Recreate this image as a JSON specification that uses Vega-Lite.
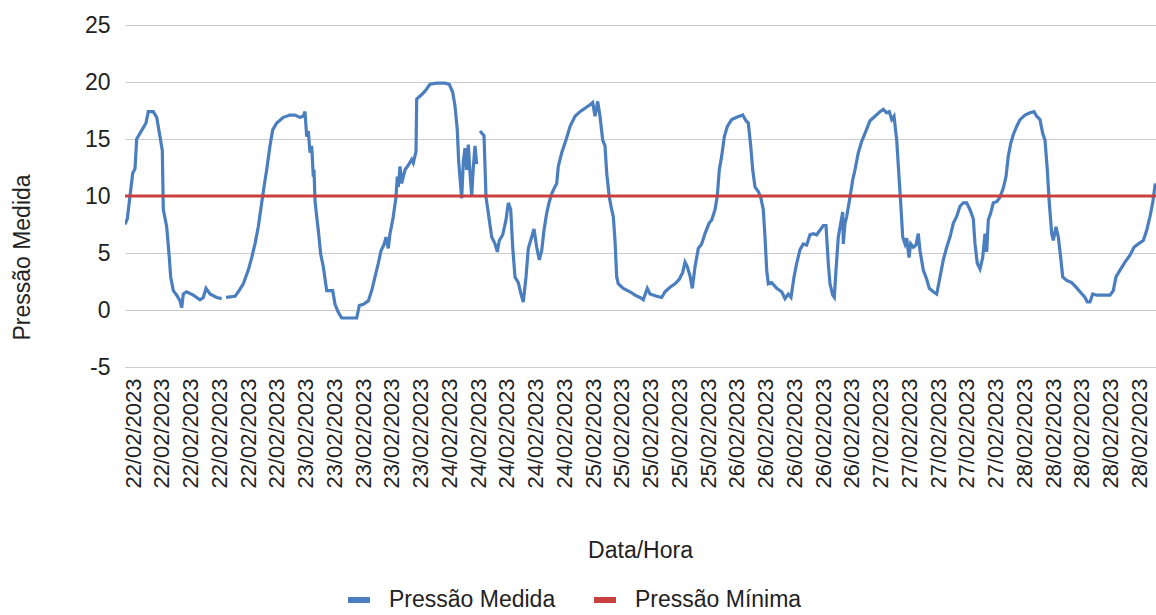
{
  "$schema": "https://vega.github.io/schema/vega-lite/v6.json",
  "autosize": {"type": "none"},
  "width": 1031,
  "height": 342,
  "padding": {"left": 125, "top": 25, "right": 0, "bottom": 248},
  "background": "white",
  "config": {
    "view": {"stroke": null},
    "font": "Liberation Sans",
    "axis": {"labelFont": "Liberation Sans", "titleFont": "Liberation Sans", "labelColor": "#222", "titleColor": "#222", "titleFontWeight": "normal"},
    "legend": {"labelFont": "Liberation Sans"}
  },
  "datasets": {
    "medida": [
      {"DataHora":"2023-02-21T22:40","Pressao":7.5},{"DataHora":"2023-02-21T23:03","Pressao":8.0},{"DataHora":"2023-02-21T23:30","Pressao":10.0},{"DataHora":"2023-02-21T23:57","Pressao":12.0},
      {"DataHora":"2023-02-22T00:20","Pressao":12.4},{"DataHora":"2023-02-22T00:37","Pressao":15.0},{"DataHora":"2023-02-22T01:10","Pressao":15.5},{"DataHora":"2023-02-22T01:43","Pressao":16.0},{"DataHora":"2023-02-22T02:10","Pressao":16.4},{"DataHora":"2023-02-22T02:33","Pressao":17.4},{"DataHora":"2023-02-22T03:23","Pressao":17.4},{"DataHora":"2023-02-22T03:57","Pressao":16.9},{"DataHora":"2023-02-22T04:30","Pressao":15.2},{"DataHora":"2023-02-22T04:53","Pressao":14.0},{"DataHora":"2023-02-22T05:03","Pressao":8.8},{"DataHora":"2023-02-22T05:37","Pressao":7.3},{"DataHora":"2023-02-22T06:03","Pressao":4.6},{"DataHora":"2023-02-22T06:17","Pressao":2.9},{"DataHora":"2023-02-22T06:43","Pressao":1.7},{"DataHora":"2023-02-22T07:17","Pressao":1.3},{"DataHora":"2023-02-22T07:50","Pressao":0.8},{"DataHora":"2023-02-22T08:07","Pressao":0.2},{"DataHora":"2023-02-22T08:23","Pressao":1.4},{"DataHora":"2023-02-22T08:57","Pressao":1.6},{"DataHora":"2023-02-22T10:03","Pressao":1.3},{"DataHora":"2023-02-22T11:10","Pressao":0.9},{"DataHora":"2023-02-22T11:43","Pressao":1.1},{"DataHora":"2023-02-22T12:10","Pressao":1.9},{"DataHora":"2023-02-22T12:50","Pressao":1.4},{"DataHora":"2023-02-22T13:57","Pressao":1.1},{"DataHora":"2023-02-22T14:47","Pressao":1.0},{"DataHora":"2023-02-22T15:10","Pressao":null},{"DataHora":"2023-02-22T15:30","Pressao":1.1},{"DataHora":"2023-02-22T17:00","Pressao":1.2},{"DataHora":"2023-02-22T17:33","Pressao":1.6},{"DataHora":"2023-02-22T18:23","Pressao":2.3},{"DataHora":"2023-02-22T19:13","Pressao":3.5},{"DataHora":"2023-02-22T19:47","Pressao":4.6},{"DataHora":"2023-02-22T20:20","Pressao":5.8},{"DataHora":"2023-02-22T20:53","Pressao":7.3},{"DataHora":"2023-02-22T21:27","Pressao":9.4},{"DataHora":"2023-02-22T21:50","Pressao":10.8},{"DataHora":"2023-02-22T22:17","Pressao":12.3},{"DataHora":"2023-02-22T22:50","Pressao":14.4},{"DataHora":"2023-02-22T23:17","Pressao":15.8},{"DataHora":"2023-02-22T23:57","Pressao":16.4},
      {"DataHora":"2023-02-23T01:03","Pressao":16.9},{"DataHora":"2023-02-23T02:10","Pressao":17.1},{"DataHora":"2023-02-23T03:00","Pressao":17.1},{"DataHora":"2023-02-23T03:50","Pressao":16.9},{"DataHora":"2023-02-23T04:23","Pressao":17.0},{"DataHora":"2023-02-23T04:40","Pressao":17.4},{"DataHora":"2023-02-23T04:57","Pressao":15.2},{"DataHora":"2023-02-23T05:13","Pressao":15.7},{"DataHora":"2023-02-23T05:30","Pressao":13.8},{"DataHora":"2023-02-23T05:47","Pressao":14.4},{"DataHora":"2023-02-23T06:03","Pressao":11.7},{"DataHora":"2023-02-23T06:10","Pressao":12.3},{"DataHora":"2023-02-23T06:20","Pressao":9.6},{"DataHora":"2023-02-23T06:37","Pressao":8.2},{"DataHora":"2023-02-23T06:53","Pressao":7.0},{"DataHora":"2023-02-23T07:17","Pressao":4.9},{"DataHora":"2023-02-23T07:43","Pressao":3.8},{"DataHora":"2023-02-23T08:17","Pressao":1.7},{"DataHora":"2023-02-23T09:17","Pressao":1.7},{"DataHora":"2023-02-23T09:40","Pressao":0.5},{"DataHora":"2023-02-23T10:13","Pressao":-0.2},{"DataHora":"2023-02-23T10:47","Pressao":-0.7},{"DataHora":"2023-02-23T11:53","Pressao":-0.7},{"DataHora":"2023-02-23T13:17","Pressao":-0.7},{"DataHora":"2023-02-23T13:43","Pressao":0.4},{"DataHora":"2023-02-23T14:23","Pressao":0.5},{"DataHora":"2023-02-23T15:13","Pressao":0.8},{"DataHora":"2023-02-23T15:47","Pressao":1.7},{"DataHora":"2023-02-23T16:20","Pressao":2.9},{"DataHora":"2023-02-23T16:53","Pressao":4.1},{"DataHora":"2023-02-23T17:20","Pressao":5.2},{"DataHora":"2023-02-23T17:53","Pressao":5.8},{"DataHora":"2023-02-23T18:10","Pressao":6.4},{"DataHora":"2023-02-23T18:33","Pressao":5.4},{"DataHora":"2023-02-23T18:50","Pressao":6.7},{"DataHora":"2023-02-23T19:23","Pressao":8.2},{"DataHora":"2023-02-23T19:50","Pressao":9.9},{"DataHora":"2023-02-23T20:03","Pressao":11.7},{"DataHora":"2023-02-23T20:13","Pressao":10.8},{"DataHora":"2023-02-23T20:30","Pressao":12.6},{"DataHora":"2023-02-23T20:47","Pressao":11.1},{"DataHora":"2023-02-23T21:20","Pressao":12.3},{"DataHora":"2023-02-23T21:53","Pressao":12.7},{"DataHora":"2023-02-23T22:27","Pressao":13.2},{"DataHora":"2023-02-23T22:43","Pressao":12.9},{"DataHora":"2023-02-23T23:10","Pressao":13.9},{"DataHora":"2023-02-23T23:17","Pressao":18.5},
      {"DataHora":"2023-02-24T00:07","Pressao":18.9},{"DataHora":"2023-02-24T00:40","Pressao":19.2},{"DataHora":"2023-02-24T01:30","Pressao":19.8},{"DataHora":"2023-02-24T02:37","Pressao":19.9},{"DataHora":"2023-02-24T04:00","Pressao":19.9},{"DataHora":"2023-02-24T04:43","Pressao":19.8},{"DataHora":"2023-02-24T05:17","Pressao":19.1},{"DataHora":"2023-02-24T05:40","Pressao":17.9},{"DataHora":"2023-02-24T06:03","Pressao":15.8},{"DataHora":"2023-02-24T06:17","Pressao":13.0},{"DataHora":"2023-02-24T06:47","Pressao":9.8},{"DataHora":"2023-02-24T07:03","Pressao":13.0},{"DataHora":"2023-02-24T07:20","Pressao":14.2},{"DataHora":"2023-02-24T07:37","Pressao":12.3},{"DataHora":"2023-02-24T07:53","Pressao":14.5},{"DataHora":"2023-02-24T08:10","Pressao":12.0},{"DataHora":"2023-02-24T08:27","Pressao":10.0},{"DataHora":"2023-02-24T08:43","Pressao":12.5},{"DataHora":"2023-02-24T09:00","Pressao":14.4},{"DataHora":"2023-02-24T09:17","Pressao":12.8},{"DataHora":"2023-02-24T09:30","Pressao":null},{"DataHora":"2023-02-24T09:50","Pressao":15.7},{"DataHora":"2023-02-24T10:30","Pressao":15.3},{"DataHora":"2023-02-24T10:50","Pressao":9.9},{"DataHora":"2023-02-24T11:13","Pressao":8.5},{"DataHora":"2023-02-24T11:47","Pressao":6.4},{"DataHora":"2023-02-24T12:20","Pressao":5.8},{"DataHora":"2023-02-24T12:43","Pressao":5.1},{"DataHora":"2023-02-24T13:03","Pressao":6.1},{"DataHora":"2023-02-24T13:37","Pressao":6.6},{"DataHora":"2023-02-24T14:10","Pressao":7.9},{"DataHora":"2023-02-24T14:33","Pressao":9.4},{"DataHora":"2023-02-24T14:57","Pressao":8.8},{"DataHora":"2023-02-24T15:17","Pressao":5.5},{"DataHora":"2023-02-24T15:40","Pressao":2.9},{"DataHora":"2023-02-24T16:13","Pressao":2.4},{"DataHora":"2023-02-24T16:40","Pressao":1.4},{"DataHora":"2023-02-24T17:03","Pressao":0.7},{"DataHora":"2023-02-24T17:30","Pressao":2.9},{"DataHora":"2023-02-24T17:53","Pressao":5.4},{"DataHora":"2023-02-24T18:27","Pressao":6.4},{"DataHora":"2023-02-24T18:50","Pressao":7.1},{"DataHora":"2023-02-24T19:17","Pressao":5.5},{"DataHora":"2023-02-24T19:43","Pressao":4.4},{"DataHora":"2023-02-24T20:07","Pressao":5.2},{"DataHora":"2023-02-24T20:30","Pressao":7.0},{"DataHora":"2023-02-24T20:57","Pressao":8.5},{"DataHora":"2023-02-24T21:23","Pressao":9.5},{"DataHora":"2023-02-24T21:47","Pressao":10.2},{"DataHora":"2023-02-24T22:13","Pressao":10.7},{"DataHora":"2023-02-24T22:37","Pressao":11.1},{"DataHora":"2023-02-24T22:53","Pressao":12.6},{"DataHora":"2023-02-24T23:27","Pressao":13.8},
      {"DataHora":"2023-02-25T00:10","Pressao":14.9},{"DataHora":"2023-02-25T00:50","Pressao":16.1},{"DataHora":"2023-02-25T01:40","Pressao":17.0},{"DataHora":"2023-02-25T02:30","Pressao":17.4},{"DataHora":"2023-02-25T03:20","Pressao":17.7},{"DataHora":"2023-02-25T04:10","Pressao":18.0},{"DataHora":"2023-02-25T04:37","Pressao":18.2},{"DataHora":"2023-02-25T05:00","Pressao":17.0},{"DataHora":"2023-02-25T05:27","Pressao":18.3},{"DataHora":"2023-02-25T05:50","Pressao":17.0},{"DataHora":"2023-02-25T06:17","Pressao":14.9},{"DataHora":"2023-02-25T06:40","Pressao":14.4},{"DataHora":"2023-02-25T06:57","Pressao":12.0},{"DataHora":"2023-02-25T07:23","Pressao":9.9},{"DataHora":"2023-02-25T07:47","Pressao":8.8},{"DataHora":"2023-02-25T08:03","Pressao":8.2},{"DataHora":"2023-02-25T08:20","Pressao":6.1},{"DataHora":"2023-02-25T08:37","Pressao":2.9},{"DataHora":"2023-02-25T08:53","Pressao":2.3},{"DataHora":"2023-02-25T09:43","Pressao":1.9},{"DataHora":"2023-02-25T10:50","Pressao":1.6},{"DataHora":"2023-02-25T11:40","Pressao":1.3},{"DataHora":"2023-02-25T12:30","Pressao":1.1},{"DataHora":"2023-02-25T13:03","Pressao":0.9},{"DataHora":"2023-02-25T13:43","Pressao":1.9},{"DataHora":"2023-02-25T14:10","Pressao":1.4},{"DataHora":"2023-02-25T15:17","Pressao":1.2},{"DataHora":"2023-02-25T16:07","Pressao":1.1},{"DataHora":"2023-02-25T16:40","Pressao":1.6},{"DataHora":"2023-02-25T17:30","Pressao":2.0},{"DataHora":"2023-02-25T18:20","Pressao":2.3},{"DataHora":"2023-02-25T19:03","Pressao":2.7},{"DataHora":"2023-02-25T19:37","Pressao":3.3},{"DataHora":"2023-02-25T20:00","Pressao":4.2},{"DataHora":"2023-02-25T20:23","Pressao":3.8},{"DataHora":"2023-02-25T20:50","Pressao":3.0},{"DataHora":"2023-02-25T21:13","Pressao":1.9},{"DataHora":"2023-02-25T21:40","Pressao":3.8},{"DataHora":"2023-02-25T22:13","Pressao":5.4},{"DataHora":"2023-02-25T22:47","Pressao":5.8},{"DataHora":"2023-02-25T23:20","Pressao":6.7},
      {"DataHora":"2023-02-26T00:00","Pressao":7.6},{"DataHora":"2023-02-26T00:27","Pressao":7.9},{"DataHora":"2023-02-26T01:00","Pressao":8.8},{"DataHora":"2023-02-26T01:23","Pressao":10.0},{"DataHora":"2023-02-26T01:43","Pressao":12.3},{"DataHora":"2023-02-26T02:07","Pressao":13.5},{"DataHora":"2023-02-26T02:33","Pressao":15.2},{"DataHora":"2023-02-26T03:03","Pressao":16.1},{"DataHora":"2023-02-26T03:47","Pressao":16.7},{"DataHora":"2023-02-26T04:37","Pressao":16.9},{"DataHora":"2023-02-26T05:37","Pressao":17.1},{"DataHora":"2023-02-26T06:10","Pressao":16.6},{"DataHora":"2023-02-26T06:33","Pressao":16.4},{"DataHora":"2023-02-26T06:57","Pressao":14.4},{"DataHora":"2023-02-26T07:17","Pressao":12.3},{"DataHora":"2023-02-26T07:40","Pressao":10.8},{"DataHora":"2023-02-26T08:13","Pressao":10.4},{"DataHora":"2023-02-26T08:37","Pressao":9.9},{"DataHora":"2023-02-26T09:03","Pressao":8.8},{"DataHora":"2023-02-26T09:20","Pressao":6.4},{"DataHora":"2023-02-26T09:37","Pressao":3.5},{"DataHora":"2023-02-26T09:53","Pressao":2.3},{"DataHora":"2023-02-26T10:27","Pressao":2.4},{"DataHora":"2023-02-26T11:17","Pressao":1.9},{"DataHora":"2023-02-26T12:07","Pressao":1.6},{"DataHora":"2023-02-26T12:40","Pressao":1.0},{"DataHora":"2023-02-26T13:13","Pressao":1.4},{"DataHora":"2023-02-26T13:40","Pressao":1.1},{"DataHora":"2023-02-26T14:10","Pressao":2.9},{"DataHora":"2023-02-26T14:37","Pressao":4.1},{"DataHora":"2023-02-26T15:10","Pressao":5.3},{"DataHora":"2023-02-26T15:43","Pressao":5.8},{"DataHora":"2023-02-26T16:17","Pressao":5.7},{"DataHora":"2023-02-26T16:50","Pressao":6.6},{"DataHora":"2023-02-26T17:23","Pressao":6.7},{"DataHora":"2023-02-26T17:57","Pressao":6.6},{"DataHora":"2023-02-26T18:30","Pressao":7.0},{"DataHora":"2023-02-26T19:03","Pressao":7.4},{"DataHora":"2023-02-26T19:30","Pressao":7.4},{"DataHora":"2023-02-26T19:53","Pressao":4.1},{"DataHora":"2023-02-26T20:10","Pressao":2.3},{"DataHora":"2023-02-26T20:37","Pressao":1.3},{"DataHora":"2023-02-26T20:53","Pressao":1.1},{"DataHora":"2023-02-26T21:10","Pressao":3.5},{"DataHora":"2023-02-26T21:33","Pressao":6.4},{"DataHora":"2023-02-26T21:57","Pressao":7.6},{"DataHora":"2023-02-26T22:17","Pressao":8.6},{"DataHora":"2023-02-26T22:23","Pressao":5.8},{"DataHora":"2023-02-26T22:40","Pressao":7.6},{"DataHora":"2023-02-26T22:57","Pressao":8.2},{"DataHora":"2023-02-26T23:30","Pressao":9.9},{"DataHora":"2023-02-26T23:57","Pressao":11.4},
      {"DataHora":"2023-02-27T00:20","Pressao":12.3},{"DataHora":"2023-02-27T00:53","Pressao":13.8},{"DataHora":"2023-02-27T01:27","Pressao":14.8},{"DataHora":"2023-02-27T02:00","Pressao":15.5},{"DataHora":"2023-02-27T02:50","Pressao":16.6},{"DataHora":"2023-02-27T03:40","Pressao":17.0},{"DataHora":"2023-02-27T04:30","Pressao":17.4},{"DataHora":"2023-02-27T05:03","Pressao":17.6},{"DataHora":"2023-02-27T05:37","Pressao":17.3},{"DataHora":"2023-02-27T06:03","Pressao":17.4},{"DataHora":"2023-02-27T06:27","Pressao":16.7},{"DataHora":"2023-02-27T06:50","Pressao":17.0},{"DataHora":"2023-02-27T07:17","Pressao":14.9},{"DataHora":"2023-02-27T07:40","Pressao":11.7},{"DataHora":"2023-02-27T07:57","Pressao":9.4},{"DataHora":"2023-02-27T08:17","Pressao":6.4},{"DataHora":"2023-02-27T08:40","Pressao":5.8},{"DataHora":"2023-02-27T08:57","Pressao":6.3},{"DataHora":"2023-02-27T09:20","Pressao":4.6},{"DataHora":"2023-02-27T09:37","Pressao":5.8},{"DataHora":"2023-02-27T10:03","Pressao":5.5},{"DataHora":"2023-02-27T10:30","Pressao":5.7},{"DataHora":"2023-02-27T10:53","Pressao":6.7},{"DataHora":"2023-02-27T11:10","Pressao":5.2},{"DataHora":"2023-02-27T11:43","Pressao":3.5},{"DataHora":"2023-02-27T12:17","Pressao":2.7},{"DataHora":"2023-02-27T12:43","Pressao":1.9},{"DataHora":"2023-02-27T13:23","Pressao":1.6},{"DataHora":"2023-02-27T13:57","Pressao":1.4},{"DataHora":"2023-02-27T14:30","Pressao":2.9},{"DataHora":"2023-02-27T15:03","Pressao":4.4},{"DataHora":"2023-02-27T15:37","Pressao":5.5},{"DataHora":"2023-02-27T16:10","Pressao":6.4},{"DataHora":"2023-02-27T16:43","Pressao":7.6},{"DataHora":"2023-02-27T17:17","Pressao":8.2},{"DataHora":"2023-02-27T17:50","Pressao":9.1},{"DataHora":"2023-02-27T18:23","Pressao":9.4},{"DataHora":"2023-02-27T18:57","Pressao":9.4},{"DataHora":"2023-02-27T19:30","Pressao":8.8},{"DataHora":"2023-02-27T20:03","Pressao":8.0},{"DataHora":"2023-02-27T20:20","Pressao":5.8},{"DataHora":"2023-02-27T20:43","Pressao":4.1},{"DataHora":"2023-02-27T21:10","Pressao":3.6},{"DataHora":"2023-02-27T21:37","Pressao":4.6},{"DataHora":"2023-02-27T22:00","Pressao":6.7},{"DataHora":"2023-02-27T22:17","Pressao":5.1},{"DataHora":"2023-02-27T22:33","Pressao":7.9},{"DataHora":"2023-02-27T22:57","Pressao":8.5},{"DataHora":"2023-02-27T23:23","Pressao":9.4},{"DataHora":"2023-02-27T23:57","Pressao":9.5},
      {"DataHora":"2023-02-28T00:30","Pressao":9.9},{"DataHora":"2023-02-28T01:03","Pressao":10.7},{"DataHora":"2023-02-28T01:30","Pressao":11.7},{"DataHora":"2023-02-28T01:53","Pressao":13.5},{"DataHora":"2023-02-28T02:17","Pressao":14.6},{"DataHora":"2023-02-28T02:43","Pressao":15.4},{"DataHora":"2023-02-28T03:17","Pressao":16.1},{"DataHora":"2023-02-28T03:50","Pressao":16.7},{"DataHora":"2023-02-28T04:40","Pressao":17.1},{"DataHora":"2023-02-28T05:30","Pressao":17.3},{"DataHora":"2023-02-28T06:10","Pressao":17.4},{"DataHora":"2023-02-28T06:37","Pressao":17.0},{"DataHora":"2023-02-28T07:10","Pressao":16.7},{"DataHora":"2023-02-28T07:37","Pressao":15.5},{"DataHora":"2023-02-28T08:00","Pressao":14.9},{"DataHora":"2023-02-28T08:23","Pressao":12.3},{"DataHora":"2023-02-28T08:43","Pressao":9.4},{"DataHora":"2023-02-28T09:07","Pressao":6.7},{"DataHora":"2023-02-28T09:23","Pressao":6.1},{"DataHora":"2023-02-28T09:50","Pressao":7.3},{"DataHora":"2023-02-28T10:13","Pressao":6.4},{"DataHora":"2023-02-28T10:37","Pressao":4.6},{"DataHora":"2023-02-28T10:57","Pressao":2.9},{"DataHora":"2023-02-28T11:37","Pressao":2.6},{"DataHora":"2023-02-28T12:27","Pressao":2.4},{"DataHora":"2023-02-28T13:10","Pressao":2.0},{"DataHora":"2023-02-28T13:50","Pressao":1.6},{"DataHora":"2023-02-28T14:40","Pressao":1.1},{"DataHora":"2023-02-28T15:03","Pressao":0.7},{"DataHora":"2023-02-28T15:30","Pressao":0.7},{"DataHora":"2023-02-28T15:57","Pressao":1.4},{"DataHora":"2023-02-28T16:37","Pressao":1.3},{"DataHora":"2023-02-28T17:43","Pressao":1.3},{"DataHora":"2023-02-28T18:50","Pressao":1.3},{"DataHora":"2023-02-28T19:23","Pressao":1.7},{"DataHora":"2023-02-28T19:50","Pressao":2.9},{"DataHora":"2023-02-28T20:30","Pressao":3.5},{"DataHora":"2023-02-28T21:20","Pressao":4.2},{"DataHora":"2023-02-28T22:10","Pressao":4.8},{"DataHora":"2023-02-28T22:50","Pressao":5.5},{"DataHora":"2023-02-28T23:33","Pressao":5.8},
      {"DataHora":"2023-03-01T00:23","Pressao":6.1},{"DataHora":"2023-03-01T00:57","Pressao":7.0},{"DataHora":"2023-03-01T01:30","Pressao":8.2},{"DataHora":"2023-03-01T01:57","Pressao":9.4},{"DataHora":"2023-03-01T02:23","Pressao":11.1}
    ],
    "minima": [
      {"DataHora":"2023-02-21T22:40","Pressao":10},
      {"DataHora":"2023-03-01T02:30","Pressao":10}
    ]
  },
  "layer": [
    {
      "mark": {"type": "rule", "color": "#333333", "strokeWidth": 1.2},
      "encoding": {"y": {"datum": 0, "type": "quantitative"}}
    },
    {
      "data": {"name": "medida"},
      "mark": {"type": "line", "strokeWidth": 3.2, "invalid": "break-paths-show-domains", "clip": true},
      "encoding": {
        "x": {
          "field": "DataHora", "type": "temporal",
          "scale": {"domain": [{"year": 2023, "month": 2, "date": 21, "hours": 22, "minutes": 40}, {"year": 2023, "month": 3, "date": 1, "hours": 2, "minutes": 30}]},
          "axis": {
            "title": "Data/Hora", "titleFontSize": 23, "titleX": 515, "titleY": 183, "titleBaseline": "middle", "titleAlign": "center",
            "format": "%d/%m/%Y", "formatType": "time", "tickCount": 60,
            "labelAngle": -90, "labelFontSize": 22, "labelPadding": 11, "labelOverlap": false, "labelFlush": false, "labelBound": false,
            "ticks": false, "domain": false, "grid": false,
            "values": [
              {"year":2023,"month":2,"date":22,"hours":0,"minutes":0},{"year":2023,"month":2,"date":22,"hours":4,"minutes":48},{"year":2023,"month":2,"date":22,"hours":9,"minutes":35},{"year":2023,"month":2,"date":22,"hours":14,"minutes":23},{"year":2023,"month":2,"date":22,"hours":19,"minutes":10},{"year":2023,"month":2,"date":22,"hours":23,"minutes":58},
              {"year":2023,"month":2,"date":23,"hours":4,"minutes":45},{"year":2023,"month":2,"date":23,"hours":9,"minutes":33},{"year":2023,"month":2,"date":23,"hours":14,"minutes":20},{"year":2023,"month":2,"date":23,"hours":19,"minutes":8},{"year":2023,"month":2,"date":23,"hours":23,"minutes":55},
              {"year":2023,"month":2,"date":24,"hours":4,"minutes":43},{"year":2023,"month":2,"date":24,"hours":9,"minutes":30},{"year":2023,"month":2,"date":24,"hours":14,"minutes":18},{"year":2023,"month":2,"date":24,"hours":19,"minutes":5},{"year":2023,"month":2,"date":24,"hours":23,"minutes":53},
              {"year":2023,"month":2,"date":25,"hours":4,"minutes":40},{"year":2023,"month":2,"date":25,"hours":9,"minutes":28},{"year":2023,"month":2,"date":25,"hours":14,"minutes":15},{"year":2023,"month":2,"date":25,"hours":19,"minutes":3},{"year":2023,"month":2,"date":25,"hours":23,"minutes":50},
              {"year":2023,"month":2,"date":26,"hours":4,"minutes":38},{"year":2023,"month":2,"date":26,"hours":9,"minutes":25},{"year":2023,"month":2,"date":26,"hours":14,"minutes":13},{"year":2023,"month":2,"date":26,"hours":19,"minutes":0},{"year":2023,"month":2,"date":26,"hours":23,"minutes":48},
              {"year":2023,"month":2,"date":27,"hours":4,"minutes":35},{"year":2023,"month":2,"date":27,"hours":9,"minutes":23},{"year":2023,"month":2,"date":27,"hours":14,"minutes":10},{"year":2023,"month":2,"date":27,"hours":18,"minutes":58},{"year":2023,"month":2,"date":27,"hours":23,"minutes":45},
              {"year":2023,"month":2,"date":28,"hours":4,"minutes":33},{"year":2023,"month":2,"date":28,"hours":9,"minutes":20},{"year":2023,"month":2,"date":28,"hours":14,"minutes":8},{"year":2023,"month":2,"date":28,"hours":18,"minutes":55},{"year":2023,"month":2,"date":28,"hours":23,"minutes":43}
            ]
          }
        },
        "y": {
          "field": "Pressao", "type": "quantitative",
          "scale": {"domain": [-5, 25], "nice": false, "zero": false},
          "axis": {
            "title": "Pressão Medida", "titleFontSize": 23, "titleX": -103, "titleY": 232, "titleAngle": -90, "titleBaseline": "middle", "titleAlign": "center",
            "values": [-5, 0, 5, 10, 15, 20, 25], "labelFontSize": 23, "labelPadding": 15,
            "labelExpr": "datum.value < 0 ? '-' + abs(datum.value) : '' + datum.value",
            "ticks": false, "domain": false, "grid": true, "gridColor": "#cccccc", "gridWidth": 1
          }
        },
        "color": {
          "datum": "Pressão Medida",
          "scale": {"domain": ["Pressão Medida", "Pressão Mínima"], "range": ["#4a7ebf", "#c9403f"]},
          "legend": {
            "title": null, "orient": "none", "direction": "horizontal", "legendX": 220, "legendY": 561,
            "symbolType": "stroke", "symbolSize": 484, "symbolStrokeWidth": 6, "labelFontSize": 23, "labelColor": "#222", "labelOffset": 16, "labelLimit": 0, "columnPadding": 26
          }
        }
      }
    },
    {
      "data": {"name": "minima"},
      "mark": {"type": "line", "strokeWidth": 3},
      "encoding": {
        "x": {"field": "DataHora", "type": "temporal"},
        "y": {"field": "Pressao", "type": "quantitative"},
        "color": {"datum": "Pressão Mínima"}
      }
    }
  ]
}
